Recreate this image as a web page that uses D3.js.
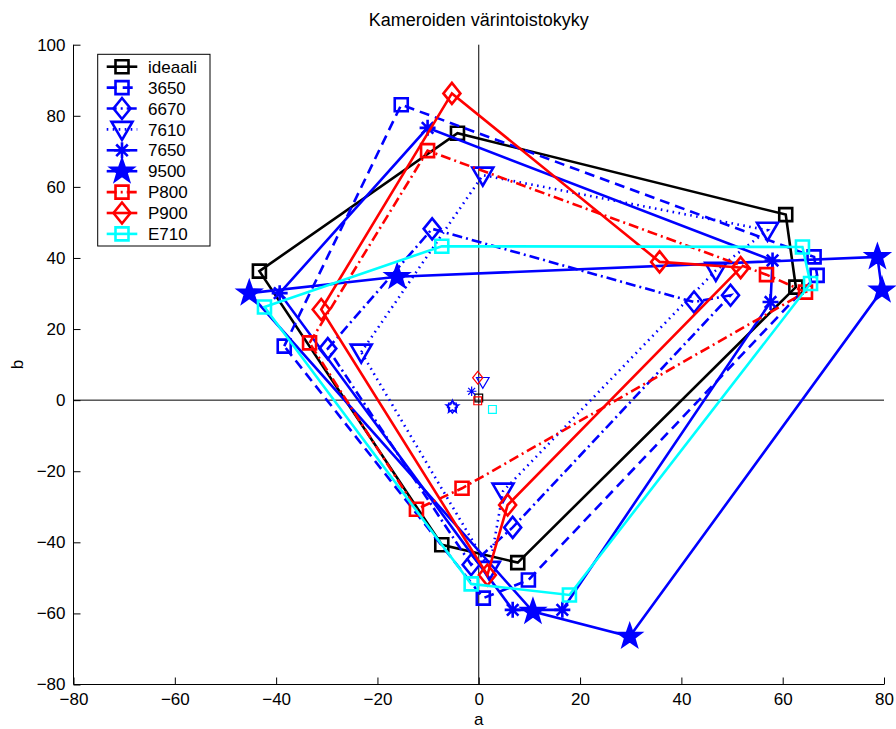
<!DOCTYPE html>
<html>
<head>
<meta charset="utf-8">
<script src="https://cdn.jsdelivr.net/npm/d3@7"></script>
<style>
  body { margin: 0; background: #fff; }
  svg { display: block; font-family: "Liberation Sans", Arial, Helvetica, sans-serif; }
</style>
</head>
<body>
<svg id="chart" width="896" height="729"></svg>
<script>
// Colour gamut of each camera in the a*b* plane: six patches per camera (closed polygon)
const seriesNames = ["ideaali", "3650", "6670", "7610", "7650", "9500", "P800", "P900", "E710"];

const ideaali = [[-43.3, 36.3], [-4.2, 75.1], [60.6, 52.2], [62.6, 31.8], [7.7, -45.7], [-7.3, -40.7]];
const cam3650 = [[-38.4, 15.2], [-15.3, 83.1], [66.2, 40.3], [66.8, 35.1], [9.8, -50.6], [0.9, -55.7]];
const cam6670 = [[-29.8, 14.5], [-9.2, 48.2], [42.5, 27.6], [49.7, 29.5], [6.7, -35.8], [-1.5, -46.3]];
const cam7610 = [[-23.2, 13.5], [0.8, 63.3], [57.0, 47.8], [46.8, 36.5], [4.8, -25.6], [2.1, -47.6]];
const cam7650 = [[-39.3, 30.1], [-10.1, 76.6], [58.0, 39.3], [57.6, 27.6], [16.5, -59.0], [6.7, -59.0]];
const cam9500 = [[-45.3, 30.1], [-16.1, 34.7], [78.7, 40.3], [79.6, 30.9], [29.8, -66.5], [10.7, -59.5]];
const camP800 = [[-33.4, 16.1], [-10.1, 70.2], [56.8, 35.3], [64.5, 30.4], [-3.3, -24.8], [-12.3, -30.7]];
const camP900 = [[-31.1, 25.5], [-5.3, 86.3], [35.7, 38.9], [51.7, 37.3], [5.7, -29.5], [1.7, -49.2]];
const camE710 = [[-42.3, 26.2], [-7.3, 43.3], [63.9, 43.1], [65.5, 32.8], [17.9, -54.8], [-1.5, -51.7]];

const seriesPoints = [ideaali, cam3650, cam6670, cam7610, cam7650, cam9500, camP800, camP900, camE710];

// Neutral (grey) patch of each camera, same order as seriesNames
const neutralA = [0.0, -5.2, -5.2, 0.8, -1.4, -5.2, -0.2, -0.2, 2.7];
const neutralB = [0.6, -1.9, -1.9, 5.1, 2.5, -1.9, -0.2, 6.3, -2.6];

const xTicks = [-80, -60, -40, -20, 0, 20, 40, 60, 80];
const yTicks = [-80, -60, -40, -20, 0, 20, 40, 60, 80, 100];

const chartTitle = "Kameroiden värintoistokyky";
const xLabel = "a";
const yLabel = "b";

// Line style / marker per camera
const blue = "#0000ff", red = "#ff0000", cyan = "#00ffff", black = "#000000";
const dashes = { solid: null, dashed: "10,6", dotted: "1.6,4.4", dashdot: "10,4,2,4" };
const styles = [
  { color: black, dash: "solid",   marker: "square" },
  { color: blue,  dash: "dashed",  marker: "square" },
  { color: blue,  dash: "dashdot", marker: "diamond" },
  { color: blue,  dash: "dotted",  marker: "triangle" },
  { color: blue,  dash: "solid",   marker: "asterisk" },
  { color: blue,  dash: "solid",   marker: "pentagram" },
  { color: red,   dash: "dashdot", marker: "square" },
  { color: red,   dash: "solid",   marker: "diamond" },
  { color: cyan,  dash: "solid",   marker: "square" }
];

function markerPath(type, k) {
  // k scales the marker (1 = full size, smaller for neutral patches)
  if (type === "square") {
    const s = 6.5 * k;
    return `M${-s},${-s}H${s}V${s}H${-s}Z`;
  }
  if (type === "diamond") {
    const w = 8.5 * k, h = 10.5 * k;
    return `M0,${-h}L${w},0L0,${h}L${-w},0Z`;
  }
  if (type === "triangle") {
    const w = 10.5 * k, t = 7.5 * k, b = 10.5 * k;
    return `M${-w},${-t}H${w}L0,${b}Z`;
  }
  if (type === "asterisk") {
    const r = 8 * k, d = r * 0.72;
    return `M${-r},0H${r}M0,${-r}V${r}M${-d},${-d}L${d},${d}M${-d},${d}L${d},${-d}`;
  }
  if (type === "pentagram") {
    const R = 11.5 * k, r = R * 0.4;
    const pts = d3.range(10).map(i => {
      const ang = -Math.PI / 2 + i * Math.PI / 5;
      const rad = i % 2 === 0 ? R : r;
      return [rad * Math.cos(ang), rad * Math.sin(ang)];
    });
    return "M" + pts.map(p => p.join(",")).join("L") + "Z";
  }
  return "";
}

// thick outline pentagrams read as solid stars
const markerFill = (type, color, big) => (type === "pentagram" && big ? color : "none");

const svg = d3.select("#chart");
const plotLeft = 73.5, plotRight = 884, plotTop = 44.7, plotBottom = 684.5;

const x = d3.scaleLinear().domain([-80, 80]).range([plotLeft, plotRight]);
const y = d3.scaleLinear().domain([-80, 100]).range([plotBottom, plotTop]);

// zero cross lines
svg.append("line").attr("x1", x(0)).attr("x2", x(0)).attr("y1", plotTop).attr("y2", plotBottom)
  .attr("stroke", "#000").attr("stroke-width", 1);
svg.append("line").attr("x1", plotLeft).attr("x2", plotRight).attr("y1", y(0)).attr("y2", y(0))
  .attr("stroke", "#000").attr("stroke-width", 1);

// axes with inward ticks
const fmt = d => d < 0 ? "\u2212" + Math.abs(d) : String(d);
const xAxis = d3.axisBottom(x).tickValues(xTicks).tickSize(-7).tickPadding(14).tickFormat(fmt);
const yAxis = d3.axisLeft(y).tickValues(yTicks).tickSize(-7).tickPadding(14).tickFormat(fmt);

const gx = svg.append("g").attr("transform", `translate(0,${plotBottom})`).call(xAxis);
const gy = svg.append("g").attr("transform", `translate(${plotLeft},0)`).call(yAxis);
[gx, gy].forEach(g => {
  g.select(".domain").attr("stroke", "#000").attr("stroke-width", 1);
  g.selectAll(".tick line").attr("stroke", "#000").attr("stroke-width", 1);
  g.selectAll("text").attr("fill", "#000").style("font-size", "17px")
    .style("font-family", '"Liberation Sans", Arial, sans-serif');
});
gx.select(".domain").attr("d", `M${plotLeft},0H${plotRight}`);
gy.select(".domain").attr("d", `M0,${plotBottom}V${plotTop}`);
gy.selectAll("text").attr("x", -8);
gx.selectAll("text").attr("y", 8);

// series polygons with markers
const line = d3.line().x(d => x(d[0])).y(d => y(d[1])).curve(d3.curveLinearClosed);
seriesPoints.forEach((pts, i) => {
  const st = styles[i];
  const g = svg.append("g");
  g.append("path").attr("d", line(pts)).attr("fill", "none")
    .attr("stroke", st.color).attr("stroke-width", 2.6)
    .attr("stroke-dasharray", dashes[st.dash])
    .attr("stroke-linejoin", "miter");
  g.selectAll("path.m").data(pts).join("path").attr("class", "m")
    .attr("transform", d => `translate(${x(d[0])},${y(d[1])})`)
    .attr("d", markerPath(st.marker, 1))
    .attr("fill", markerFill(st.marker, st.color, true))
    .attr("stroke", st.color).attr("stroke-width", 2.6);
});

// neutral patches, small markers
seriesNames.forEach((n, i) => {
  const st = styles[i];
  svg.append("path")
    .attr("transform", `translate(${x(neutralA[i])},${y(neutralB[i])})`)
    .attr("d", markerPath(st.marker, 0.6))
    .attr("fill", "none").attr("stroke", st.color).attr("stroke-width", 1.2);
});

// title and axis labels
svg.append("text").attr("x", x(0)).attr("y", 26).attr("text-anchor", "middle")
  .style("font-size", "18px").text(chartTitle);
svg.append("text").attr("x", x(0)).attr("y", 725).attr("text-anchor", "middle")
  .style("font-size", "17px").text(xLabel);
svg.append("text").attr("transform", `translate(23,${(plotTop + plotBottom) / 2}) rotate(-90)`)
  .attr("text-anchor", "middle").style("font-size", "17px").text(yLabel);

// legend
const lg = svg.append("g");
lg.append("rect").attr("x", 97.7).attr("y", 54.3).attr("width", 112.3).attr("height", 191.7)
  .attr("fill", "#fff").attr("stroke", "#000").attr("stroke-width", 1);
seriesNames.forEach((n, i) => {
  const st = styles[i];
  const yy = 66.7 + i * 20.9;
  lg.append("line").attr("x1", 106.7).attr("x2", 137.3).attr("y1", yy).attr("y2", yy)
    .attr("stroke", st.color).attr("stroke-width", 2.6)
    .attr("stroke-dasharray", dashes[st.dash]);
  lg.append("path").attr("transform", `translate(122,${yy})`)
    .attr("d", markerPath(st.marker, 1))
    .attr("fill", markerFill(st.marker, st.color, true))
    .attr("stroke", st.color).attr("stroke-width", 2.6);
  lg.append("text").attr("x", 148).attr("y", yy).attr("dy", "0.36em")
    .style("font-size", "17px").text(n);
});
</script>
</body>
</html>
